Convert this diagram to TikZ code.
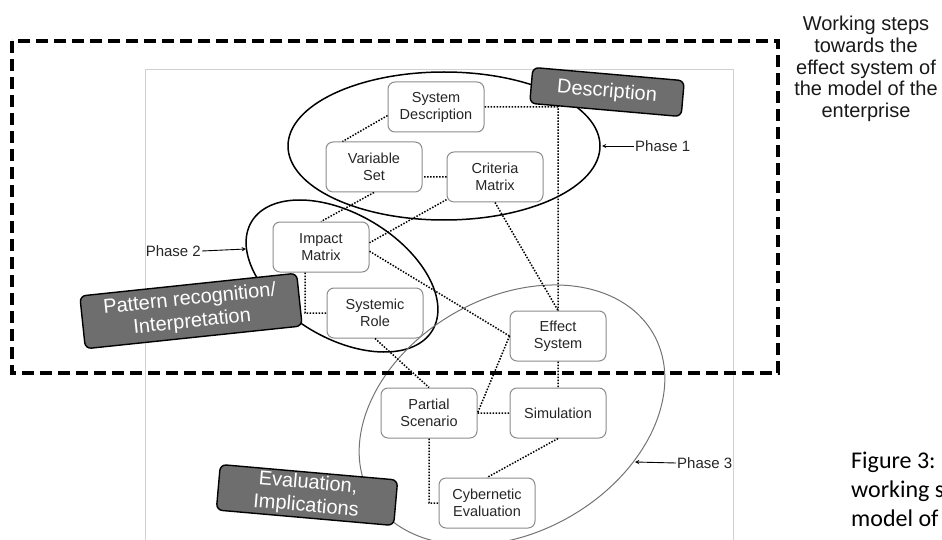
\documentclass[tikz,border=0pt]{standalone}
\usepackage{fontspec}
\setmainfont{Liberation Sans}
\newfontfamily\captionfont{Carlito}
\usetikzlibrary{shapes.geometric}
\begin{document}
\begin{tikzpicture}[x=1pt,y=-1pt,
	step box/.style={draw=black!45, fill=white, rounded corners=7pt, line width=1pt, minimum width=96pt, minimum height=50pt, inner sep=2pt, align=center, text=black!85, font=\fontsize{14.5}{17}\selectfont},
	tag/.style={draw=black, fill=black!57, rounded corners=6pt, line width=1.4pt, inner sep=2pt, align=center, text=white, font=\fontsize{20}{23}\selectfont},
	phase/.style={draw, ellipse, inner sep=0pt, outer sep=0pt},
	phase name/.style={inner sep=1pt, text=black!85, font=\fontsize{15}{17}\selectfont},
	link/.style={line width=1.5pt, dash pattern=on 1.5pt off 1.5pt}]
	\useasboundingbox (0,0) rectangle (942,540);
	\draw[black!18, line width=0.8pt] (145,560) |- (733,69) -- (733,560);
	\node[phase, line width=1.5pt, minimum width=312pt, minimum height=148pt] (ph1) at (444,146) {};
	\node[phase, line width=1.5pt, minimum width=211pt, minimum height=124pt, rotate=-31] (ph2) at (342,276) {};
	\node[phase, draw=black!55, line width=1pt, minimum width=326pt, minimum height=234pt, rotate=30] (ph3) at (512,415) {};
	\node[step box] (sd) at (436,107) {System\\Description};
	\node[step box] (vs) at (374,167) {Variable\\Set};
	\node[step box] (cm) at (495,177) {Criteria\\Matrix};
	\node[step box] (im) at (321,247) {Impact\\Matrix};
	\node[step box] (sr) at (375,313) {Systemic\\Role};
	\node[step box] (es) at (558,336) {Effect\\System};
	\node[step box] (ps) at (429,413) {Partial\\Scenario};
	\node[step box] (sim) at (558,413) {Simulation};
	\node[step box] (ce) at (487,503) {Cybernetic\\Evaluation};
	\draw[link] (sd.190) -- (vs.141) (sd.east) -| (es.north)
	(cm.west) -- (cm.west -| vs.east) (vs.south) -- (im.north)
	(cm.205) -- (im.5) (cm.south) -- (es.north) (im.-5) -- (es.west)
	([xshift=-16pt]im.south) |- (sr.west) (sr.south) -- (ps.north)
	(es.west) -- (ps.east) (es.south) -- (sim.north) (ps.east) -- (sim.west)
	(ps.south) |- (ce.west) (sim.south) -- (ce.north);
	\node[tag, minimum width=152pt, minimum height=36pt, rotate=-5] (desc) at (607,92) {Description};
	\node[tag, minimum width=218pt, minimum height=53pt, rotate=6] (pattern) at (191,311) {Pattern recognition/\\Interpretation};
	\node[tag, minimum width=178pt, minimum height=44pt, rotate=-5] (evalimp) at (307,495) {Evaluation,\\Implications};
	\node[phase name, anchor=west] (p1) at (634,146) {Phase 1};
	\node[phase name, anchor=east] (p2) at (202,251) {Phase 2};
	\node[phase name, anchor=west] (p3) at (676,463) {Phase 3};
	\coordinate (t1) at (602,146);
	\coordinate (t2) at (246,249);
	\coordinate (t3) at (635,462);
	\draw[-stealth, line width=0.9pt] (p1.west) -- (t1);
	\draw[-stealth, line width=0.9pt] (p2.east) -- (t2);
	\draw[-stealth, line width=0.9pt] (p3.west) -- (t3);
	\draw[line width=4pt, dash pattern=on 12pt off 6pt] (12,41) rectangle (778,373);
	\node[align=center, text=black!90, font=\fontsize{20}{21.7}\selectfont] (steps) at (866,69) {Working steps\\towards the\\effect system of\\the model of the\\enterprise};
	\node[anchor=north west, align=left, inner sep=0pt, font=\captionfont\fontsize{24}{29}\selectfont] (caption) at (851,452) {Figure 3:\\working s\\model of};
\end{tikzpicture}
\end{document}
